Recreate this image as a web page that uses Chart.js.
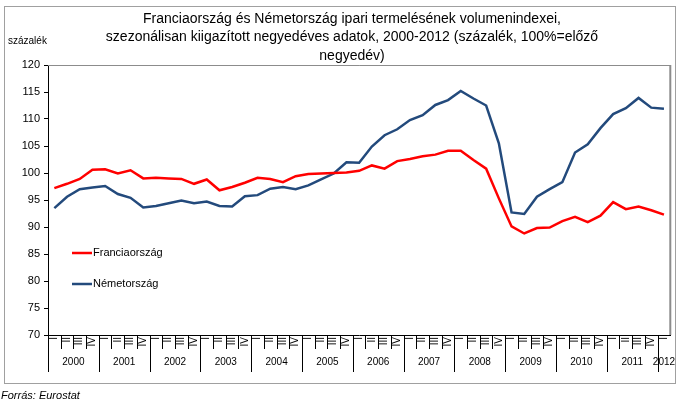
<!DOCTYPE html>
<html lang="hu">
<head>
<meta charset="UTF-8">
<title>Ipari termelés volumenindexei</title>
<script src="https://cdn.jsdelivr.net/npm/chart.js@4"></script>
<style>
  body { margin: 0; background: #fff; }
</style>
</head>
<body>
<canvas id="chart" width="678" height="401"></canvas>
<script>
// adatok (negyedéves, 2000 I. - 2012 I.)
const years = ['2000', '2001', '2002', '2003', '2004', '2005', '2006', '2007', '2008', '2009', '2010', '2011', '2012'];
const quarters = ['I', 'II', 'III', 'IV'];
const franceValues = [
  97.2, 98.0, 98.9, 100.6,
  100.7, 99.9, 100.5, 99.0,
  99.1, 99.0, 98.9, 98.0,
  98.8, 96.8, 97.4, 98.2,
  99.1, 98.9, 98.3, 99.4,
  99.8, 99.9, 100.0, 100.1,
  100.4, 101.4, 100.8, 102.2,
  102.6, 103.1, 103.4, 104.1,
  104.1, 102.4, 100.8, 95.3,
  90.1, 88.8, 89.8, 89.9,
  91.1, 91.9, 90.9, 92.1,
  94.6, 93.3, 93.8, 93.1,
  92.3
];
const germanyValues = [
  93.5, 95.6, 97.0, 97.3,
  97.6, 96.1, 95.4, 93.6,
  93.9, 94.4, 94.9, 94.4,
  94.7, 93.9, 93.8, 95.7,
  95.9, 97.1, 97.4, 97.0,
  97.7, 98.8, 99.9, 102.0,
  101.9, 104.9, 107.0, 108.1,
  109.8, 110.7, 112.6, 113.5,
  115.2, 113.8, 112.5, 105.5,
  92.7, 92.4, 95.6, 97.0,
  98.3, 103.8, 105.3, 108.3,
  110.9, 112.0, 113.9, 112.1,
  111.9
];
const seriesNames = ['Franciaország', 'Németország'];
const titleLines = [
  'Franciaország és Németország ipari termelésének volumenindexei,',
  'szezonálisan kiigazított negyedéves adatok, 2000-2012 (százalék, 100%=előző',
  'negyedév)'
];
const yUnit = 'százalék';
const sourceText = 'Forrás: Eurostat';

const FONT = '"Liberation Sans", Arial, sans-serif';

// kategóriák: év + negyedév
const labels = [];
years.forEach(y => quarters.forEach(q => labels.push(q)));
labels.length = franceValues.length;

const decor = {
  id: 'decor',
  afterDraw(chart) {
    const ctx = chart.ctx;
    const area = chart.chartArea;
    const x = chart.scales.x;
    const half = (x.getPixelForValue(1) - x.getPixelForValue(0)) / 2;
    ctx.save();

    // külső keret
    ctx.strokeStyle = '#a0a0a0';
    ctx.lineWidth = 1;
    ctx.strokeRect(4.5, 6.5, 671, 377);

    // rajzterület keret (felső és jobb)
    ctx.strokeStyle = '#8c8c8c';
    ctx.beginPath();
    ctx.moveTo(area.left, area.top + 0.5);
    ctx.lineTo(area.right, area.top + 0.5);
    ctx.stroke();
    ctx.lineWidth = 2;
    ctx.beginPath();
    ctx.moveTo(area.right, area.top);
    ctx.lineTo(area.right, area.bottom);
    ctx.stroke();

    // negyedév és év elválasztók
    ctx.strokeStyle = '#000';
    ctx.lineWidth = 1;
    for (let i = 0; i < labels.length; i++) {
      const px = Math.round(x.getPixelForValue(i) - half) + 0.5;
      const len = i % 4 === 0 ? 37 : 14;
      ctx.beginPath();
      ctx.moveTo(px, area.bottom);
      ctx.lineTo(px, area.bottom + len);
      ctx.stroke();
    }
    ctx.fillStyle = '#000';
    ctx.font = '10px ' + FONT;
    ctx.textAlign = 'center';
    ctx.textBaseline = 'middle';
    years.forEach((yr, i) => {
      const first = i * 4;
      const last = Math.min(first + 3, labels.length - 1);
      const cx = (x.getPixelForValue(first) + x.getPixelForValue(last)) / 2;
      ctx.fillText(yr, cx, area.bottom + 27);
    });

    // cím
    ctx.font = '14px ' + FONT;
    titleLines.forEach((t, i) => ctx.fillText(t, 352, 19 + i * 18.5));

    ctx.textAlign = 'left';
    ctx.font = '10px ' + FONT;
    ctx.fillText(yUnit, 8, 41);

    ctx.font = 'italic 11px ' + FONT;
    ctx.fillText(sourceText, 1, 396);

    // jelmagyarázat
    ctx.font = '11px ' + FONT;
    chart.data.datasets.forEach((ds, i) => {
      const ly = 253 + i * 31;
      ctx.strokeStyle = ds.borderColor;
      ctx.lineWidth = 2.5;
      ctx.beginPath();
      ctx.moveTo(72, ly);
      ctx.lineTo(92, ly);
      ctx.stroke();
      ctx.fillStyle = '#000';
      ctx.fillText(ds.label, 93, ly);
    });
    ctx.restore();
  }
};

new Chart(document.getElementById('chart'), {
  type: 'line',
  data: {
    labels: labels,
    datasets: [
      { label: seriesNames[0], data: franceValues, borderColor: '#ff0000', borderWidth: 2.5, pointRadius: 0, tension: 0 },
      { label: seriesNames[1], data: germanyValues, borderColor: '#234a7c', borderWidth: 2.5, pointRadius: 0, tension: 0 }
    ]
  },
  options: {
    responsive: false,
    devicePixelRatio: 1,
    animation: false,
    layout: { padding: { top: 65, right: 5, left: 0, bottom: 0 } },
    plugins: { legend: { display: false }, tooltip: { enabled: false } },
    scales: {
      x: {
        offset: true,
        afterFit: s => { s.height = 66; },
        grid: { display: false, drawTicks: false },
        border: { display: true, color: '#000', width: 1 },
        ticks: { autoSkip: false, minRotation: 90, maxRotation: 90, padding: 2, color: '#000', font: { family: FONT, size: 10 } }
      },
      y: {
        min: 70,
        max: 120,
        afterFit: s => { s.width = 48; },
        grid: { drawOnChartArea: false, drawTicks: true, tickLength: 4, color: '#000' },
        border: { display: true, color: '#000', width: 1 },
        ticks: { stepSize: 5, padding: 4, color: '#000', font: { family: FONT, size: 11 } }
      }
    }
  },
  plugins: [decor]
});
</script>
</body>
</html>
